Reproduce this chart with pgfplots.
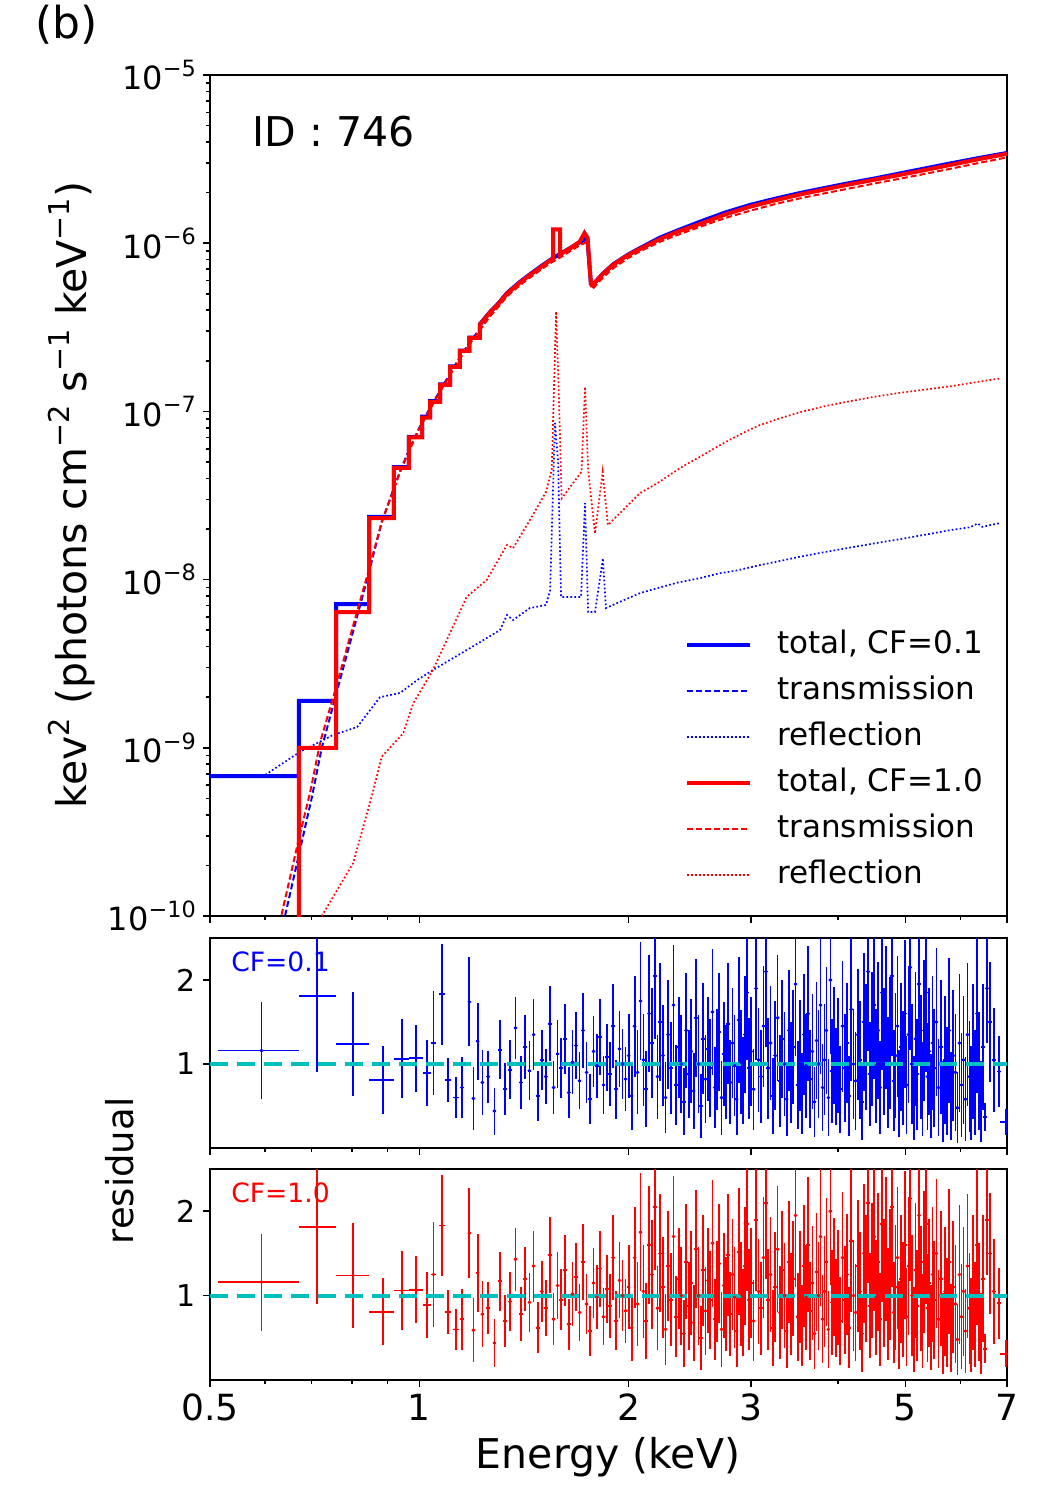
\documentclass[border=0pt]{standalone}
\usepackage{fontspec}
\setmainfont{DejaVu Sans}
\usepackage{pgfplots}
\pgfplotsset{compat=1.18}
\usepackage{pgfplotstable}
\usepackage{graphicx}
\newcommand{\sups}[1]{\raisebox{0.42em}{\scalebox{0.7}{#1}}}
\definecolor{cyanline}{RGB}{0,191,191}

\pgfplotstableread{
E F
0.500 6.8e-10
0.671 6.8e-10
0.671 1.90e-9
0.759 1.90e-9
0.759 7.16e-9
0.847 7.16e-9
0.847 2.36e-8
0.919 2.36e-8
0.919 4.67e-8
0.966 4.67e-8
0.966 7.05e-8
1.009 7.05e-8
1.009 9.3e-8
1.036 9.3e-8
1.036 1.15e-7
1.071 1.15e-7
1.071 1.45e-7
1.107 1.45e-7
1.107 1.85e-7
1.144 1.85e-7
1.144 2.30e-7
1.180 2.30e-7
1.180 2.75e-7
1.222 2.75e-7
1.222 3.30e-7
1.26 3.85e-7
1.30 4.40e-7
1.337 5.06e-7
1.396 5.90e-7
1.44 6.50e-7
1.491 7.22e-7
1.542 7.95e-7
1.567 8.30e-7
1.60 8.70e-7
1.65 9.40e-7
1.70 1.01e-6
1.735 1.07e-6
1.745 1.06e-6
1.765 5.75e-7
1.775 5.65e-7
1.837 6.60e-7
1.90 7.50e-7
2.00 8.60e-7
2.077 9.36e-7
2.219 1.08e-6
2.35 1.19e-6
2.53 1.34e-6
2.75 1.52e-6
2.99 1.69e-6
3.25 1.84e-6
3.53 1.99e-6
3.85 2.14e-6
4.16 2.28e-6
4.50 2.42e-6
4.91 2.60e-6
5.35 2.79e-6
5.80 2.98e-6
6.40 3.22e-6
7.00 3.44e-6
}\btot

\pgfplotstableread{
E F
0.630 7.0e-11
0.641 1.0e-10
0.674 2.5e-10
0.700 5.0e-10
0.724 1.0e-9
0.759 2.07e-9
0.795 4.2e-9
0.841 1.0e-8
0.883 2.2e-8
0.919 3.5e-8
0.942 4.6e-8
0.970 6.1e-8
1.000 8.0e-8
1.036 1.05e-7
1.071 1.33e-7
1.107 1.68e-7
1.144 2.10e-7
1.180 2.55e-7
1.222 3.10e-7
1.26 3.70e-7
1.30 4.30e-7
1.337 4.95e-7
1.396 5.80e-7
1.44 6.40e-7
1.491 7.12e-7
1.542 7.85e-7
1.60 8.60e-7
1.65 9.30e-7
1.70 1.00e-6
1.735 1.05e-6
1.745 1.04e-6
1.765 5.65e-7
1.775 5.55e-7
1.837 6.50e-7
1.90 7.40e-7
2.00 8.50e-7
2.077 9.25e-7
2.219 1.07e-6
2.35 1.18e-6
2.53 1.33e-6
2.75 1.50e-6
2.99 1.67e-6
3.25 1.82e-6
3.53 1.97e-6
3.85 2.12e-6
4.16 2.26e-6
4.50 2.40e-6
4.91 2.58e-6
5.35 2.77e-6
5.80 2.96e-6
6.40 3.20e-6
7.00 3.42e-6
}\btra

\pgfplotstableread{
E F
0.594 6.71e-10
0.674 9.48e-10
0.751 1.19e-9
0.814 1.33e-9
0.878 2.00e-9
0.938 2.12e-9
0.993 2.53e-9
1.046 2.90e-9
1.183 3.92e-9
1.306 5.01e-9
1.337 6.16e-9
1.364 5.75e-9
1.442 6.78e-9
1.521 7.06e-9
1.542 8.67e-9
1.567 8.53e-8
1.583 5.1e-8
1.599 7.88e-9
1.708 7.88e-9
1.731 2.85e-8
1.749 6.42e-9
1.789 6.42e-9
1.837 1.34e-8
1.855 6.78e-9
2.077 8.32e-9
2.20 8.9e-9
2.35 9.6e-9
2.53 1.02e-8
2.70 1.09e-8
2.85 1.13e-8
3.09 1.22e-8
3.30 1.29e-8
3.53 1.37e-8
3.80 1.45e-8
4.16 1.55e-8
4.50 1.64e-8
4.91 1.74e-8
5.30 1.84e-8
5.80 1.97e-8
6.20 2.05e-8
6.35 2.16e-8
6.45 2.06e-8
6.84 2.17e-8
}\bref

\pgfplotstableread{
E F
0.600 5.0e-11
0.671 5.0e-11
0.671 1.0e-9
0.759 1.0e-9
0.759 6.4e-9
0.847 6.4e-9
0.847 2.32e-8
0.919 2.32e-8
0.919 4.62e-8
0.966 4.62e-8
0.966 7.0e-8
1.009 7.0e-8
1.009 9.2e-8
1.036 9.2e-8
1.036 1.14e-7
1.071 1.14e-7
1.071 1.44e-7
1.107 1.44e-7
1.107 1.84e-7
1.144 1.84e-7
1.144 2.29e-7
1.180 2.29e-7
1.180 2.74e-7
1.222 2.74e-7
1.222 3.28e-7
1.26 3.83e-7
1.30 4.38e-7
1.337 5.02e-7
1.396 5.85e-7
1.44 6.45e-7
1.491 7.15e-7
1.542 7.90e-7
1.557 8.15e-7
1.557 1.21e-6
1.594 1.21e-6
1.594 8.60e-7
1.65 9.35e-7
1.70 1.02e-6
1.728 1.15e-6
1.745 1.08e-6
1.765 5.75e-7
1.775 5.65e-7
1.837 6.58e-7
1.90 7.45e-7
2.00 8.55e-7
2.077 9.25e-7
2.219 1.06e-6
2.35 1.17e-6
2.53 1.30e-6
2.75 1.48e-6
2.99 1.65e-6
3.25 1.80e-6
3.53 1.95e-6
3.85 2.10e-6
4.16 2.24e-6
4.50 2.38e-6
4.91 2.55e-6
5.35 2.73e-6
5.80 2.92e-6
6.40 3.17e-6
7.00 3.40e-6
}\rtot

\pgfplotstableread{
E F
0.626 8.0e-11
0.637 1.12e-10
0.670 2.8e-10
0.697 5.5e-10
0.721 1.1e-9
0.757 2.2e-9
0.793 4.4e-9
0.840 1.03e-8
0.883 2.2e-8
0.919 3.45e-8
0.942 4.55e-8
0.970 6.0e-8
1.000 7.9e-8
1.036 1.03e-7
1.071 1.31e-7
1.107 1.65e-7
1.144 2.06e-7
1.180 2.50e-7
1.222 3.04e-7
1.26 3.62e-7
1.30 4.20e-7
1.337 4.83e-7
1.396 5.64e-7
1.44 6.22e-7
1.491 6.90e-7
1.542 7.60e-7
1.60 8.30e-7
1.65 9.00e-7
1.70 9.70e-7
1.735 1.01e-6
1.745 1.00e-6
1.765 5.45e-7
1.775 5.35e-7
1.837 6.25e-7
1.90 7.10e-7
2.00 8.20e-7
2.077 8.95e-7
2.219 1.02e-6
2.35 1.12e-6
2.53 1.25e-6
2.75 1.41e-6
2.99 1.56e-6
3.25 1.71e-6
3.53 1.85e-6
3.85 1.99e-6
4.16 2.12e-6
4.50 2.26e-6
4.91 2.42e-6
5.35 2.59e-6
5.80 2.77e-6
6.40 3.01e-6
7.00 3.24e-6
}\rtra

\pgfplotstableread{
E F
0.724 1.0e-10
0.803 2.06e-10
0.854 5.12e-10
0.883 8.86e-10
0.948 1.22e-9
0.980 1.84e-9
1.046 2.90e-9
1.170 7.91e-9
1.250 9.95e-9
1.337 1.61e-8
1.364 1.54e-8
1.442 2.26e-8
1.521 3.32e-8
1.550 4.49e-8
1.573 3.92e-7
1.588 1.17e-7
1.602 3.04e-8
1.711 4.38e-8
1.731 1.40e-7
1.749 4.49e-8
1.789 1.88e-8
1.835 4.38e-8
1.867 2.11e-8
2.077 3.27e-8
2.20 3.75e-8
2.29 4.19e-8
2.40 4.75e-8
2.53 5.36e-8
2.65 6.0e-8
2.79 6.76e-8
2.95 7.6e-8
3.09 8.3e-8
3.30 9.1e-8
3.53 9.9e-8
3.85 1.08e-7
4.16 1.15e-7
4.50 1.22e-7
4.91 1.29e-7
5.35 1.35e-7
5.80 1.41e-7
6.30 1.49e-7
6.84 1.57e-7
}\rref

\pgfplotstableread{
E r e xm xp
0.593 1.16 0.575 0.079 0.078
0.712 1.81 0.905 0.041 0.047
0.803 1.24 0.62 0.044 0.044
0.886 0.81 0.40 0.039 0.033
0.944 1.06 0.47 0.025 0.022
0.988 1.07 0.40 0.022 0.023
1.026 0.89 0.39 0.013 0.012
1.048 1.25 0.62 0.010 0.010
1.078 1.83 0.60 0.010 0.010
1.100 0.81 0.26 0.012 0.012
1.129 0.60 0.24 0.012 0.012
6.51 0.37 0.17 0.04 0.04
6.98 0.31 0.16 0.13 0.13
}\reswide

\pgfplotstableread{
E r e
1.151 0.72 0.36
1.180 1.74 0.53
1.196 0.59 0.38
1.213 1.27 0.46
1.232 0.78 0.39
1.256 0.85 0.31
1.282 0.44 0.28
1.305 1.17 0.35
1.328 0.70 0.31
1.351 0.93 0.35
1.375 1.43 0.37
1.40 0.78 0.32
1.42 1.20 0.38
1.44 0.92 0.35
1.46 1.35 0.42
1.48 0.62 0.30
1.50 1.05 0.36
1.52 0.85 0.33
1.54 1.48 0.45
1.56 0.72 0.31
1.58 1.12 0.40
1.60 0.95 0.36
1.62 1.30 0.42
1.64 0.66 0.30
1.66 1.02 0.38
1.68 1.22 0.40
1.70 0.80 0.34
1.72 1.40 0.45
1.74 0.90 0.36
1.76 0.58 0.30
1.78 1.15 0.42
1.80 0.98 0.38
1.82 1.32 0.45
1.84 0.75 0.34
1.86 1.08 0.40
1.88 0.88 0.38
1.90 1.45 0.50
1.92 0.70 0.35
1.94 1.18 0.45
1.96 1.00 0.42
1.98 0.82 0.38
2.00 1.10 0.50
2.02 0.62 0.40
2.04 1.45 0.60
2.06 0.90 0.50
2.08 1.75 0.70
2.10 1.05 0.55
2.12 0.70 0.45
2.14 1.60 0.70
2.16 1.25 0.65
2.18 2.05 0.75
2.20 0.85 0.50
2.22 1.50 0.70
2.24 1.10 0.60
2.26 0.60 0.42
2.28 1.35 0.65
2.30 0.95 0.55
2.32 1.70 0.72
2.34 0.75 0.48
2.36 1.20 0.60
2.38 1.00 0.58
2.40 0.55 0.40
2.42 1.40 0.68
2.44 0.88 0.52
2.46 1.15 0.62
2.48 0.68 0.45
2.50 1.55 0.70
2.52 1.00 0.58
2.54 0.50 0.38
2.56 1.30 0.66
2.58 0.82 0.52
2.60 1.18 0.62
2.62 0.95 0.58
2.64 1.62 0.75
2.66 0.72 0.48
2.68 1.05 0.60
2.70 1.38 0.70
2.72 0.60 0.44
2.74 1.12 0.62
2.76 0.90 0.56
2.78 1.48 0.72
2.80 0.78 0.50
2.82 1.25 0.66
2.84 0.98 0.60
2.86 0.58 0.42
2.88 1.52 0.75
2.90 1.02 0.62
2.92 0.80 0.52
2.94 1.35 0.70
2.96 1.85 0.80
2.98 0.95 0.60
3.000 1.15 0.65
3.025 0.70 0.48
3.050 1.90 0.85
3.075 1.05 0.62
3.100 0.85 0.55
3.125 1.45 0.72
3.150 2.10 0.90
3.175 0.95 0.60
3.200 1.25 0.68
3.225 0.62 0.45
3.250 1.10 0.65
3.275 1.55 0.75
3.300 0.80 0.55
3.325 1.30 0.70
3.350 1.00 0.62
3.375 0.58 0.44
3.400 1.40 0.72
3.425 0.90 0.60
3.450 1.20 0.68
3.475 1.95 0.85
3.500 0.75 0.52
3.525 1.10 0.66
3.550 0.65 0.48
3.575 1.35 0.72
3.600 0.98 0.62
3.625 1.60 0.80
3.650 0.82 0.58
3.675 1.15 0.68
3.700 0.55 0.42
3.725 1.28 0.70
3.750 1.00 0.64
3.775 1.70 0.82
3.800 0.72 0.52
3.825 1.05 0.66
3.850 1.40 0.76
3.875 0.60 0.46
3.900 2.00 0.88
3.925 0.92 0.62
3.950 1.22 0.70
3.975 0.85 0.58
4.00 1.10 0.68
4.03 0.70 0.52
4.06 1.45 0.78
4.09 0.95 0.64
4.12 1.25 0.72
4.15 0.62 0.48
4.18 1.65 0.85
4.21 1.00 0.66
4.24 0.80 0.58
4.27 1.35 0.78
4.30 1.05 0.70
4.33 0.55 0.45
4.36 1.50 0.82
4.39 1.20 0.75
4.42 2.10 0.95
4.45 0.88 0.62
4.48 1.30 0.80
4.51 1.70 0.88
4.54 0.98 0.68
4.57 1.40 0.82
4.60 0.72 0.55
4.63 1.85 0.92
4.66 1.15 0.76
4.69 1.55 0.85
4.72 0.90 0.66
4.75 1.25 0.78
4.78 2.05 0.95
4.81 0.80 0.60
4.84 1.10 0.74
4.87 1.45 0.84
4.90 0.65 0.52
4.93 1.20 0.76
4.96 0.95 0.68
4.99 1.60 0.88
5.02 0.75 0.58
5.05 1.35 0.82
5.08 2.15 0.98
5.11 1.00 0.72
5.14 0.60 0.50
5.17 1.30 0.80
5.20 0.88 0.66
5.23 1.95 0.95
5.26 1.08 0.74
5.29 0.70 0.56
5.32 1.40 0.84
5.35 1.85 0.95
5.38 0.85 0.64
5.41 1.15 0.76
5.44 0.62 0.50
5.47 1.25 0.80
5.50 0.95 0.70
5.54 1.50 0.88
5.58 0.72 0.58
5.62 1.20 0.80
5.66 0.55 0.48
5.70 1.05 0.76
5.74 0.80 0.64
5.78 1.40 0.86
5.82 0.62 0.52
5.86 1.10 0.78
5.90 0.90 0.70
5.94 0.48 0.42
5.98 1.25 0.82
6.02 0.75 0.62
6.06 1.05 0.76
6.10 0.58 0.50
6.14 1.35 0.85
6.18 0.85 0.66
6.22 0.65 0.56
6.26 1.15 0.80
6.30 0.78 0.62
6.34 1.60 0.95
6.38 0.92 0.70
6.42 0.55 0.48
6.46 1.20 0.75
6.55 1.90 0.65
6.62 1.50 0.72
6.70 1.05 0.62
6.82 0.91 0.42
}\resmain

\begin{document}
\begin{tikzpicture}
\path[use as bounding box] (0,0) rectangle (525pt,-750pt);

\begin{axis}[
  scale only axis, width=398.5pt, height=420.5pt,
  at={(105pt,-37.5pt)}, anchor=north west,
  xmode=log, ymode=log, xmin=0.5, xmax=7, ymin=1e-10, ymax=1e-5,
  tick pos=left, tick align=outside,
  major tick length=3.5pt, minor tick length=2pt,
  axis line style={line width=1pt},
  tick style={line width=0.8pt, black},
  xtick={0.5,1,2,3,5,7}, minor xtick={0.6,0.7,0.8,0.9,4,6},
  xticklabels={},
  ytick={1e-10,1e-9,1e-8,1e-7,1e-6,1e-5},
  yticklabels={10\sups{−10},10\sups{−9},10\sups{−8},10\sups{−7},10\sups{−6},10\sups{−5}},
  minor ytick={2e-10,3e-10,4e-10,5e-10,6e-10,7e-10,8e-10,9e-10,
               2e-9,3e-9,4e-9,5e-9,6e-9,7e-9,8e-9,9e-9,
               2e-8,3e-8,4e-8,5e-8,6e-8,7e-8,8e-8,9e-8,
               2e-7,3e-7,4e-7,5e-7,6e-7,7e-7,8e-7,9e-7,
               2e-6,3e-6,4e-6,5e-6,6e-6,7e-6,8e-6,9e-6},
  yticklabel style={font=\fontsize{16}{19}\selectfont},
  legend style={draw=none, fill=none, at={(0.596,0.3413)}, anchor=north west,
    inner sep=0pt, row sep=7.5pt, column sep=0pt,
    font=\fontsize{15.5}{18}\selectfont,
    nodes={inner sep=0pt, text height=12pt, text depth=3.5pt}},
  legend cell align=left,
  legend image code/.code={\draw[#1] (0pt,0pt) -- (31.5pt,0pt); \path (44pt,0pt);},
]
\addplot[blue, line width=2pt] table[x=E,y=F] {\btot};
\addlegendentry{total, CF=0.1}
\addplot[blue, line width=1pt, dash pattern=on 3pt off 1.5pt] table[x=E,y=F] {\btra};
\addlegendentry{transmission}
\addplot[blue, line width=0.85pt, dash pattern=on 0.85pt off 1.15pt] table[x=E,y=F] {\bref};
\addlegendentry{reflection}
\addplot[red, line width=2pt] table[x=E,y=F] {\rtot};
\addlegendentry{total, CF=1.0}
\addplot[red, line width=1pt, dash pattern=on 3pt off 1.5pt] table[x=E,y=F] {\rtra};
\addlegendentry{transmission}
\addplot[red, line width=0.85pt, dash pattern=on 0.85pt off 1.15pt] table[x=E,y=F] {\rref};
\addlegendentry{reflection}
\end{axis}

\begin{axis}[
  scale only axis, width=398.5pt, height=105pt,
  at={(105pt,-469pt)}, anchor=north west,
  xmode=log, xmin=0.5, xmax=7, ymin=0, ymax=2.5,
  tick pos=left, tick align=outside,
  major tick length=3.5pt, minor tick length=2pt,
  axis line style={line width=1pt},
  tick style={line width=0.8pt, black},
  xtick={0.5,1,2,3,5,7}, minor xtick={0.6,0.7,0.8,0.9,4,6},
  xticklabels={},
  ytick={1,2}, yticklabels={1,2},
  yticklabel style={font=\fontsize{15}{18}\selectfont},
]
\addplot[blue, only marks, mark=*, mark size=0.7pt,
  error bars/.cd, y dir=both, y explicit, x dir=both, x explicit,
  error mark=none, error bar style={line width=0.85pt}]
  table[x=E, y=r, y error=e, x error plus=xp, x error minus=xm] {\reswide};
\addplot[blue, only marks, mark=*, mark size=0.7pt,
  error bars/.cd, y dir=both, y explicit, x dir=both, x fixed relative=0.006,
  error mark=none, error bar style={line width=0.85pt}]
  table[x=E, y=r, y error=e] {\resmain};
\addplot[cyanline, line width=2pt, dash pattern=on 9pt off 4.5pt] coordinates {(0.5,1) (7,1)};
\end{axis}

\begin{axis}[
  scale only axis, width=398.5pt, height=105.5pt,
  at={(105pt,-584.5pt)}, anchor=north west,
  xmode=log, xmin=0.5, xmax=7, ymin=0, ymax=2.5,
  tick pos=left, tick align=outside,
  major tick length=3.5pt, minor tick length=2pt,
  axis line style={line width=1pt},
  tick style={line width=0.8pt, black},
  xtick={0.5,1,2,3,5,7}, minor xtick={0.6,0.7,0.8,0.9,4,6},
  xticklabels={0.5,1,2,3,5,7},
  xticklabel style={font=\fontsize{18}{21}\selectfont},
  ytick={1,2}, yticklabels={1,2},
  yticklabel style={font=\fontsize{15}{18}\selectfont},
]
\addplot[red, only marks, mark=*, mark size=0.7pt,
  error bars/.cd, y dir=both, y explicit, x dir=both, x explicit,
  error mark=none, error bar style={line width=0.85pt}]
  table[x=E, y=r, y error=e, x error plus=xp, x error minus=xm] {\reswide};
\addplot[red, only marks, mark=*, mark size=0.7pt,
  error bars/.cd, y dir=both, y explicit, x dir=both, x fixed relative=0.006,
  error mark=none, error bar style={line width=0.85pt}]
  table[x=E, y=r, y error=e] {\resmain};
\addplot[cyanline, line width=2pt, dash pattern=on 9pt off 4.5pt] coordinates {(0.5,1) (7,1)};
\end{axis}

\node[font=\fontsize{22}{26}\selectfont] at (33.25pt,-12.5pt) {(b)};
\node[font=\fontsize{20.5}{24}\selectfont] at (166.75pt,-66pt) {ID : 746};
\node[font=\fontsize{13.3}{16}\selectfont, text=blue] at (140.25pt,-481pt) {CF=0.1};
\node[font=\fontsize{13.3}{16}\selectfont, text=red] at (140.25pt,-596.5pt) {CF=1.0};
\node[rotate=90, font=\fontsize{20.5}{24}\selectfont] at (36pt,-247.5pt)
  {kev\sups{2} (photons cm\sups{−2} s\sups{−1} keV\sups{−1})};
\node[rotate=90, font=\fontsize{18.5}{22}\selectfont] at (60pt,-585.5pt) {residual};
\node[font=\fontsize{20.5}{24}\selectfont] at (304pt,-728.5pt) {Energy (keV)};
\end{tikzpicture}
\end{document}
